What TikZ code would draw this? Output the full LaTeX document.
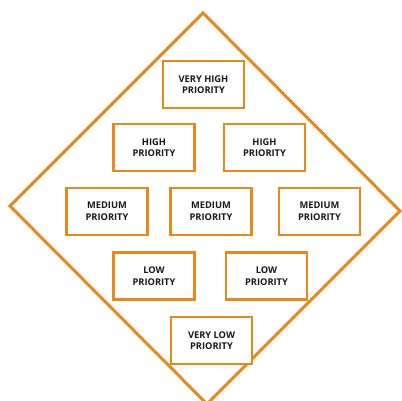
\documentclass[tikz,border=0pt]{standalone}
\usepackage{fontspec}
\setmainfont{Open Sans}
\usetikzlibrary{calc}
\definecolor{prio}{HTML}{E8891E}

\begin{document}
\begin{tikzpicture}[x=1pt, y=-1pt,
    level/.style={draw=prio, fill=white, line width=2.5pt, minimum width=81pt, minimum height=47pt,
      align=center, font=\bfseries\fontsize{9.3}{11.6}\selectfont, text=black!90},
    frame/.style={draw=prio, line width=3pt, line join=miter}]
  \useasboundingbox (0,0) rectangle (402,401);
  \clip (0,0) rectangle (402,401);
  \coordinate (top) at (203,13);
  \coordinate (west) at (10,206);
  \coordinate (east) at (400,211);
  \coordinate (bottom) at (207,404);
  \draw[frame] (top) -- (east) -- (bottom) -- (west) -- cycle;
  \node[level] (vh) at (203.5,84.5) {VERY HIGH\\PRIORITY};
  \node[level] (h1) at (154,147.5) {HIGH\\PRIORITY};
  \node[level] (h2) at (264.5,147.5) {HIGH\\PRIORITY};
  \node[level] (m1) at (107,211.5) {MEDIUM\\PRIORITY};
  \node[level] (m2) at (211,211.5) {MEDIUM\\PRIORITY};
  \node[level] (m3) at (319.5,211.5) {MEDIUM\\PRIORITY};
  \node[level] (l1) at (154,276) {LOW\\PRIORITY};
  \node[level] (l2) at (266.5,276) {LOW\\PRIORITY};
  \node[level] (vl) at (211.5,340.5) {VERY LOW\\PRIORITY};
\end{tikzpicture}
\end{document}
